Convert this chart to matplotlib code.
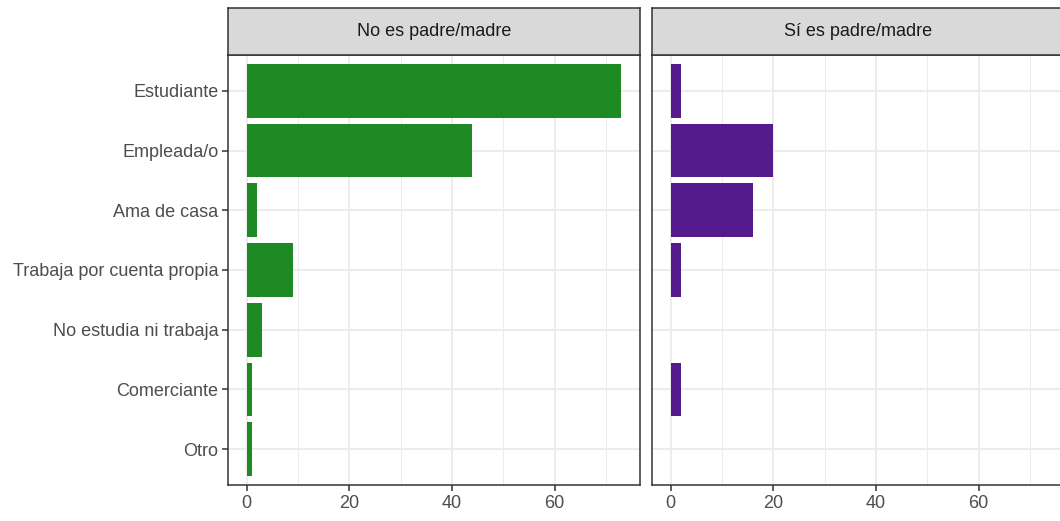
import matplotlib
matplotlib.use("Agg")
import matplotlib.pyplot as plt

plt.rcParams['font.family'] = ['Liberation Sans', 'DejaVu Sans']

categories = ["Estudiante", "Empleada/o", "Ama de casa", "Trabaja por cuenta propia",
              "No estudia ni trabaja", "Comerciante", "Otro"]
panels = ["No es padre/madre", "Sí es padre/madre"]
values_no = [73, 44, 2, 9, 3, 1, 1]
values_si = [2, 20, 16, 2, 0, 2, 0]
colors = ["#1E8A23", "#551A8B"]
xticks = [0, 20, 40, 60]

W, H = 1060, 521
fig = plt.figure(figsize=(W / 100, H / 100), dpi=100)

def fx(px):
    return px / W

def fy(py):
    return 1 - py / H

panel_x = [(228, 640), (652, 1064)]
top, bottom, strip_top = 55, 485, 8
n = len(categories)
ypos = list(range(n, 0, -1))

for i, (name, vals, col) in enumerate(zip(panels, [values_no, values_si], colors)):
    x0, x1 = panel_x[i]
    ax = fig.add_axes([fx(x0), fy(bottom), fx(x1 - x0), fy(top) - fy(bottom)])
    ax.set_xlim(-3.65, 76.65)
    ax.set_ylim(0.4, n + 0.6)
    for m in [10, 30, 50, 70]:
        ax.axvline(m, color="#EBEBEB", lw=0.7, zorder=0)
    for m in xticks:
        ax.axvline(m, color="#EBEBEB", lw=1.3, zorder=0)
    for y in ypos:
        ax.axhline(y, color="#EBEBEB", lw=1.3, zorder=0)
    ax.barh(ypos, vals, height=0.9, color=col, zorder=2)
    ax.set_xticks(xticks)
    ax.set_xticklabels([str(t) for t in xticks])
    ax.set_yticks(ypos)
    if i == 0:
        ax.set_yticklabels(categories)
        ax.tick_params(axis='y', length=4, width=1.1, color="#333333",
                       labelsize=13, labelcolor="#4D4D4D", pad=3)
    else:
        ax.set_yticklabels([])
        ax.tick_params(axis='y', length=0)
    ax.tick_params(axis='x', length=4, width=1.1, color="#333333",
                   labelsize=13, labelcolor="#4D4D4D", pad=3)
    for s in ax.spines.values():
        s.set_color("#333333")
        s.set_linewidth(1.1)
    # strip
    sax = fig.add_axes([fx(x0), fy(top), fx(x1 - x0), fy(strip_top) - fy(top)])
    sax.set_xticks([])
    sax.set_yticks([])
    sax.set_facecolor("#D9D9D9")
    for s in sax.spines.values():
        s.set_color("#333333")
        s.set_linewidth(1.1)
    sax.text(0.5, 0.5, name, ha="center", va="center", fontsize=13,
             color="#1A1A1A", transform=sax.transAxes)

fig.savefig("out.png", dpi=100)
